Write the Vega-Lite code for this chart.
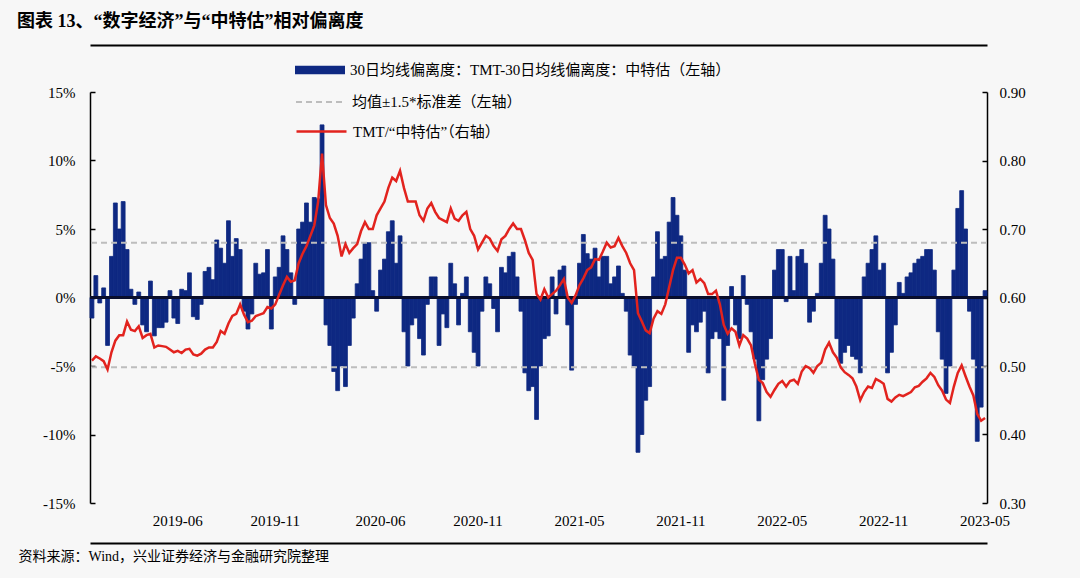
{
  "$schema": "https://vega.github.io/schema/vega-lite/v6.json",
  "autosize": "none",
  "width": 897,
  "height": 411,
  "padding": {"left": 90, "top": 92, "right": 93, "bottom": 75},
  "background": "#f7f7f7",
  "config": {"view": {"stroke": null}, "font": "Liberation Serif, Noto Sans CJK SC"},
  "title": {
    "text": "图表 13、“数字经济”与“中特估”相对偏离度",
    "anchor": "start",
    "frame": "group",
    "dx": -73,
    "offset": 14,
    "fontSize": 18,
    "fontWeight": "bold",
    "font": "Liberation Serif, Noto Sans CJK SC",
    "color": "#000000"
  },
  "data": {"values": [
    {"d":"2019-01-04","v":-1.5,"r":0.508},{"d":"2019-01-11","v":1.6,"r":0.514},{"d":"2019-01-18","v":-0.4,"r":0.511},{"d":"2019-01-25","v":0.7,"r":0.507},
    {"d":"2019-02-01","v":-3.5,"r":0.495},{"d":"2019-02-08","v":3.0,"r":0.520},{"d":"2019-02-15","v":6.9,"r":0.537},{"d":"2019-02-22","v":5.0,"r":0.545},
    {"d":"2019-03-01","v":7.0,"r":0.545},{"d":"2019-03-08","v":3.5,"r":0.565},{"d":"2019-03-15","v":0.6,"r":0.553},{"d":"2019-03-22","v":-0.5,"r":0.551},{"d":"2019-03-29","v":0.4,"r":0.558},
    {"d":"2019-04-05","v":-2.0,"r":0.541},{"d":"2019-04-12","v":-2.5,"r":0.545},{"d":"2019-04-19","v":1.2,"r":0.547},{"d":"2019-04-26","v":-2.8,"r":0.527},
    {"d":"2019-05-03","v":-2.2,"r":0.530},{"d":"2019-05-10","v":-2.2,"r":0.529},{"d":"2019-05-17","v":-1.8,"r":0.528},{"d":"2019-05-24","v":0.5,"r":0.524},{"d":"2019-05-31","v":-1.5,"r":0.520},
    {"d":"2019-06-07","v":-1.9,"r":0.522},{"d":"2019-06-14","v":0.6,"r":0.519},{"d":"2019-06-21","v":0.5,"r":0.524},{"d":"2019-06-28","v":1.8,"r":0.525},
    {"d":"2019-07-05","v":-1.4,"r":0.517},{"d":"2019-07-12","v":-1.6,"r":0.515},{"d":"2019-07-19","v":-0.5,"r":0.518},{"d":"2019-07-26","v":1.9,"r":0.524},
    {"d":"2019-08-02","v":2.2,"r":0.527},{"d":"2019-08-09","v":1.3,"r":0.527},{"d":"2019-08-16","v":4.2,"r":0.535},{"d":"2019-08-23","v":3.6,"r":0.551},{"d":"2019-08-30","v":2.5,"r":0.547},
    {"d":"2019-09-06","v":5.6,"r":0.562},{"d":"2019-09-13","v":3.0,"r":0.573},{"d":"2019-09-20","v":4.3,"r":0.576},{"d":"2019-09-27","v":3.5,"r":0.590},
    {"d":"2019-10-04","v":-1.0,"r":0.575},{"d":"2019-10-11","v":-2.3,"r":0.564},{"d":"2019-10-18","v":-1.2,"r":0.566},{"d":"2019-10-25","v":2.5,"r":0.573},
    {"d":"2019-11-01","v":1.7,"r":0.575},{"d":"2019-11-08","v":1.8,"r":0.577},{"d":"2019-11-15","v":3.5,"r":0.586},{"d":"2019-11-22","v":-2.3,"r":0.584},{"d":"2019-11-29","v":1.5,"r":0.590},
    {"d":"2019-12-06","v":2.2,"r":0.604},{"d":"2019-12-13","v":4.5,"r":0.618},{"d":"2019-12-20","v":3.5,"r":0.630},{"d":"2019-12-27","v":1.8,"r":0.623},
    {"d":"2020-01-03","v":-0.5,"r":0.625},{"d":"2020-01-10","v":5.0,"r":0.650},{"d":"2020-01-17","v":5.5,"r":0.664},{"d":"2020-01-24","v":6.9,"r":0.675},{"d":"2020-01-31","v":5.5,"r":0.690},
    {"d":"2020-02-07","v":7.3,"r":0.705},{"d":"2020-02-14","v":7.2,"r":0.740},{"d":"2020-02-21","v":12.6,"r":0.810},{"d":"2020-02-28","v":-2.0,"r":0.735},
    {"d":"2020-03-06","v":-3.5,"r":0.716},{"d":"2020-03-13","v":-5.4,"r":0.708},{"d":"2020-03-20","v":-6.8,"r":0.690},{"d":"2020-03-27","v":-5.0,"r":0.660},
    {"d":"2020-04-03","v":-6.5,"r":0.678},{"d":"2020-04-10","v":-3.5,"r":0.665},{"d":"2020-04-17","v":-1.5,"r":0.672},{"d":"2020-04-24","v":1.0,"r":0.678},
    {"d":"2020-05-01","v":2.8,"r":0.697},{"d":"2020-05-08","v":4.0,"r":0.710},{"d":"2020-05-15","v":4.0,"r":0.700},{"d":"2020-05-22","v":0.5,"r":0.700},{"d":"2020-05-29","v":-1.0,"r":0.720},
    {"d":"2020-06-05","v":2.0,"r":0.730},{"d":"2020-06-12","v":2.8,"r":0.740},{"d":"2020-06-19","v":4.8,"r":0.760},{"d":"2020-06-26","v":5.6,"r":0.775},
    {"d":"2020-07-03","v":2.5,"r":0.770},{"d":"2020-07-10","v":4.5,"r":0.785},{"d":"2020-07-17","v":-2.5,"r":0.760},{"d":"2020-07-24","v":-5.0,"r":0.740},{"d":"2020-07-31","v":-2.0,"r":0.740},
    {"d":"2020-08-07","v":-1.5,"r":0.740},{"d":"2020-08-14","v":-3.0,"r":0.720},{"d":"2020-08-21","v":-4.2,"r":0.712},{"d":"2020-08-28","v":-0.5,"r":0.730},
    {"d":"2020-09-04","v":1.5,"r":0.738},{"d":"2020-09-11","v":1.5,"r":0.725},{"d":"2020-09-18","v":-3.5,"r":0.716},{"d":"2020-09-25","v":-1.2,"r":0.713},
    {"d":"2020-10-02","v":-2.2,"r":0.710},{"d":"2020-10-09","v":2.5,"r":0.730},{"d":"2020-10-16","v":1.0,"r":0.715},{"d":"2020-10-23","v":-2.0,"r":0.712},{"d":"2020-10-30","v":0.3,"r":0.720},
    {"d":"2020-11-06","v":1.5,"r":0.725},{"d":"2020-11-13","v":-2.5,"r":0.700},{"d":"2020-11-20","v":-4.0,"r":0.690},{"d":"2020-11-27","v":-5.0,"r":0.670},
    {"d":"2020-12-04","v":-1.0,"r":0.680},{"d":"2020-12-11","v":1.5,"r":0.690},{"d":"2020-12-18","v":1.0,"r":0.686},{"d":"2020-12-25","v":-0.8,"r":0.675},
    {"d":"2021-01-01","v":-2.5,"r":0.668},{"d":"2021-01-08","v":2.2,"r":0.685},{"d":"2021-01-15","v":1.8,"r":0.690},{"d":"2021-01-22","v":3.0,"r":0.700},{"d":"2021-01-29","v":3.3,"r":0.708},
    {"d":"2021-02-05","v":1.5,"r":0.700},{"d":"2021-02-12","v":-1.0,"r":0.700},{"d":"2021-02-19","v":-5.5,"r":0.684},{"d":"2021-02-26","v":-6.8,"r":0.665},
    {"d":"2021-03-05","v":-6.5,"r":0.655},{"d":"2021-03-12","v":-8.9,"r":0.605},{"d":"2021-03-19","v":-5.0,"r":0.597},{"d":"2021-03-26","v":-3.0,"r":0.612},
    {"d":"2021-04-02","v":-2.8,"r":0.600},{"d":"2021-04-09","v":1.5,"r":0.605},{"d":"2021-04-16","v":-1.2,"r":0.610},{"d":"2021-04-23","v":2.0,"r":0.618},{"d":"2021-04-30","v":2.3,"r":0.627},
    {"d":"2021-05-07","v":-2.0,"r":0.600},{"d":"2021-05-14","v":-5.3,"r":0.592},{"d":"2021-05-21","v":-0.5,"r":0.603},{"d":"2021-05-28","v":2.5,"r":0.618},
    {"d":"2021-06-04","v":4.6,"r":0.628},{"d":"2021-06-11","v":3.2,"r":0.640},{"d":"2021-06-18","v":2.8,"r":0.644},{"d":"2021-06-25","v":3.6,"r":0.656},
    {"d":"2021-07-02","v":1.5,"r":0.655},{"d":"2021-07-09","v":3.0,"r":0.667},{"d":"2021-07-16","v":3.0,"r":0.680},{"d":"2021-07-23","v":1.0,"r":0.673},{"d":"2021-07-30","v":1.5,"r":0.675},
    {"d":"2021-08-06","v":2.3,"r":0.687},{"d":"2021-08-13","v":0.3,"r":0.675},{"d":"2021-08-20","v":-1.0,"r":0.665},{"d":"2021-08-27","v":-4.2,"r":0.650},
    {"d":"2021-09-03","v":-5.0,"r":0.640},{"d":"2021-09-10","v":-11.3,"r":0.577},{"d":"2021-09-17","v":-10.0,"r":0.565},{"d":"2021-09-24","v":-7.5,"r":0.552},
    {"d":"2021-10-01","v":-6.5,"r":0.548},{"d":"2021-10-08","v":1.5,"r":0.569},{"d":"2021-10-15","v":4.8,"r":0.580},{"d":"2021-10-22","v":2.8,"r":0.576},{"d":"2021-10-29","v":3.0,"r":0.590},
    {"d":"2021-11-05","v":5.5,"r":0.615},{"d":"2021-11-12","v":7.3,"r":0.640},{"d":"2021-11-19","v":6.0,"r":0.658},{"d":"2021-11-26","v":4.5,"r":0.658},
    {"d":"2021-12-03","v":2.0,"r":0.648},{"d":"2021-12-10","v":-4.0,"r":0.635},{"d":"2021-12-17","v":-2.0,"r":0.640},{"d":"2021-12-24","v":-2.5,"r":0.622},{"d":"2021-12-31","v":-1.8,"r":0.627},
    {"d":"2022-01-07","v":-1.0,"r":0.621},{"d":"2022-01-14","v":-5.5,"r":0.605},{"d":"2022-01-21","v":-3.0,"r":0.605},{"d":"2022-01-28","v":-2.5,"r":0.610},
    {"d":"2022-02-04","v":-3.0,"r":0.590},{"d":"2022-02-11","v":-7.5,"r":0.560},{"d":"2022-02-18","v":-3.5,"r":0.547},{"d":"2022-02-25","v":0.8,"r":0.555},
    {"d":"2022-03-04","v":-2.0,"r":0.550},{"d":"2022-03-11","v":-3.0,"r":0.530},{"d":"2022-03-18","v":1.6,"r":0.545},{"d":"2022-03-25","v":-0.5,"r":0.540},
    {"d":"2022-04-01","v":-2.5,"r":0.530},{"d":"2022-04-08","v":-4.5,"r":0.503},{"d":"2022-04-15","v":-9.0,"r":0.480},{"d":"2022-04-22","v":-6.0,"r":0.475},{"d":"2022-04-29","v":-4.5,"r":0.462},
    {"d":"2022-05-06","v":-3.0,"r":0.455},{"d":"2022-05-13","v":2.0,"r":0.465},{"d":"2022-05-20","v":3.5,"r":0.474},{"d":"2022-05-27","v":3.5,"r":0.478},
    {"d":"2022-06-03","v":-0.3,"r":0.470},{"d":"2022-06-10","v":3.0,"r":0.478},{"d":"2022-06-17","v":0.5,"r":0.480},{"d":"2022-06-24","v":3.0,"r":0.474},
    {"d":"2022-07-01","v":3.5,"r":0.492},{"d":"2022-07-08","v":2.5,"r":0.500},{"d":"2022-07-15","v":-1.8,"r":0.497},{"d":"2022-07-22","v":-1.0,"r":0.490},{"d":"2022-07-29","v":0.3,"r":0.500},
    {"d":"2022-08-05","v":2.5,"r":0.505},{"d":"2022-08-12","v":6.0,"r":0.524},{"d":"2022-08-19","v":5.0,"r":0.534},{"d":"2022-08-26","v":2.8,"r":0.520},
    {"d":"2022-09-02","v":-3.0,"r":0.512},{"d":"2022-09-09","v":-4.8,"r":0.498},{"d":"2022-09-16","v":-4.0,"r":0.491},{"d":"2022-09-23","v":-3.5,"r":0.487},{"d":"2022-09-30","v":-4.3,"r":0.482},
    {"d":"2022-10-07","v":-4.5,"r":0.470},{"d":"2022-10-14","v":-5.5,"r":0.450},{"d":"2022-10-21","v":1.5,"r":0.462},{"d":"2022-10-28","v":2.5,"r":0.470},
    {"d":"2022-11-04","v":3.5,"r":0.468},{"d":"2022-11-11","v":4.5,"r":0.481},{"d":"2022-11-18","v":2.0,"r":0.478},{"d":"2022-11-25","v":2.5,"r":0.474},
    {"d":"2022-12-02","v":-5.5,"r":0.452},{"d":"2022-12-09","v":-4.0,"r":0.448},{"d":"2022-12-16","v":-2.0,"r":0.454},{"d":"2022-12-23","v":1.1,"r":0.458},{"d":"2022-12-30","v":0.3,"r":0.456},
    {"d":"2023-01-06","v":1.5,"r":0.459},{"d":"2023-01-13","v":1.8,"r":0.462},{"d":"2023-01-20","v":2.5,"r":0.469},{"d":"2023-01-27","v":2.8,"r":0.471},
    {"d":"2023-02-03","v":3.0,"r":0.477},{"d":"2023-02-10","v":3.5,"r":0.482},{"d":"2023-02-17","v":3.5,"r":0.490},{"d":"2023-02-24","v":2.0,"r":0.484},
    {"d":"2023-03-03","v":-2.5,"r":0.472},{"d":"2023-03-10","v":-4.5,"r":0.464},{"d":"2023-03-17","v":-7.0,"r":0.451},{"d":"2023-03-24","v":-5.0,"r":0.446},{"d":"2023-03-31","v":2.0,"r":0.470},
    {"d":"2023-04-07","v":6.5,"r":0.490},{"d":"2023-04-14","v":7.8,"r":0.501},{"d":"2023-04-21","v":5.0,"r":0.485},{"d":"2023-04-28","v":-1.0,"r":0.470},
    {"d":"2023-05-05","v":-4.5,"r":0.457},{"d":"2023-05-12","v":-10.5,"r":0.430},{"d":"2023-05-19","v":-8.0,"r":0.420},{"d":"2023-05-26","v":0.5,"r":0.424}
  ]},
  "layer": [
    {
      "layer": [
        {
          "mark": {"type": "bar", "stroke": "#0e2882", "strokeWidth": 0.8},
          "encoding": {
            "x": {
              "field": "d", "type": "ordinal",
              "scale": {"paddingInner": 0, "paddingOuter": 0},
              "axis": {
                "orient": "bottom", "offset": 40,
                "values": ["2019-06-07","2019-11-29","2020-06-05","2020-11-27","2021-05-28","2021-11-26","2022-05-27","2022-11-25","2023-05-26"],
                "labelExpr": "slice(datum.value, 0, 7)",
                "labelAngle": 0, "labelOverlap": false, "labelFlush": false,
                "labelPadding": -30, "labelFontSize": 15, "labelColor": "#000000",
                "labelFont": "Liberation Serif",
                "ticks": false, "domain": true, "domainColor": "#000000", "domainWidth": 2,
                "title": "资料来源：Wind，兴业证券经济与金融研究院整理",
                "titleAnchor": "start", "titleAlign": "left", "titleBaseline": "top",
                "titleX": -72, "titleY": 6,
                "titleFontSize": 14, "titleFontWeight": "normal", "titleColor": "#000000",
                "titleFont": "Liberation Serif, Noto Sans CJK SC"
              }
            },
            "y": {
              "field": "v", "type": "quantitative",
              "scale": {"domain": [-15, 15], "nice": false},
              "axis": {
                "orient": "left", "title": null, "grid": false,
                "values": [-15, -10, -5, 0, 5, 10, 15],
                "labelExpr": "datum.value + '%'",
                "domainColor": "#000000", "domainWidth": 1.5,
                "tickColor": "#000000", "tickWidth": 1.5, "tickSize": -5,
                "labelPadding": 20, "labelFontSize": 15, "labelColor": "#000000",
                "labelFont": "Liberation Serif"
              }
            },
            "color": {
              "datum": "30日均线偏离度：TMT-30日均线偏离度：中特估（左轴）",
              "scale": {"range": ["#0e2882"]},
              "legend": {
                "orient": "none", "legendX": 205, "legendY": -47, "title": null, "padding": 0,
                "symbolType": "M-1,-0.17H1V0.17H-1Z", "symbolSize": 2500, "symbolStrokeWidth": 0,
                "labelFontSize": 15, "labelColor": "#000000", "labelLimit": 700, "labelOffset": 5,
                "labelFont": "Liberation Serif, Noto Sans CJK SC"
              }
            }
          }
        },
        {
          "data": {"values": [{"b": 4.0}, {"b": -5.1}]},
          "mark": {"type": "rule", "strokeDash": [6, 4], "strokeWidth": 2},
          "encoding": {
            "y": {"field": "b", "type": "quantitative", "title": null},
            "color": {
              "datum": "均值±1.5*标准差（左轴）",
              "scale": {"range": ["#bdbdbd"]},
              "legend": {
                "orient": "none", "legendX": 205, "legendY": -16, "title": null, "padding": 0,
                "symbolType": "stroke", "symbolSize": 2500, "symbolStrokeWidth": 2, "symbolDash": [6, 4],
                "labelFontSize": 15, "labelColor": "#000000", "labelLimit": 700, "labelOffset": 5,
                "labelFont": "Liberation Serif, Noto Sans CJK SC"
              }
            }
          }
        },
        {
          "mark": {"type": "rule", "color": "#0a0f2e", "strokeWidth": 2.5},
          "encoding": {"y": {"datum": 0, "title": null}}
        }
      ],
      "resolve": {"scale": {"color": "independent"}}
    },
    {
      "mark": {"type": "line", "strokeWidth": 2.5},
      "encoding": {
        "x": {
          "field": "d", "type": "ordinal",
          "axis": {"orient": "top", "offset": 47, "labels": false, "ticks": false, "title": null,
                   "domain": true, "domainColor": "#000000", "domainWidth": 2}
        },
        "y": {
          "field": "r", "type": "quantitative",
          "scale": {"domain": [0.3, 0.9], "nice": false, "zero": false},
          "axis": {
            "orient": "right", "title": null, "grid": false,
            "values": [0.3, 0.4, 0.5, 0.6, 0.7, 0.8, 0.9], "format": ".2f",
            "domainColor": "#000000", "domainWidth": 1.5,
            "tickColor": "#000000", "tickWidth": 1.5, "tickSize": -5,
            "labelPadding": 17, "labelFontSize": 15, "labelColor": "#000000",
            "labelFont": "Liberation Serif"
          }
        },
        "color": {
          "datum": "TMT/“中特估”（右轴）",
          "scale": {"range": ["#e2231e"]},
          "legend": {
            "orient": "none", "legendX": 205, "legendY": 13, "title": null, "padding": 0,
            "symbolType": "stroke", "symbolSize": 2500, "symbolStrokeWidth": 2.5,
            "labelFontSize": 15, "labelColor": "#000000", "labelLimit": 700, "labelOffset": 5,
            "labelFont": "Liberation Serif, Noto Sans CJK SC"
          }
        }
      }
    }
  ],
  "resolve": {"scale": {"y": "independent", "color": "independent"}, "axis": {"x": "independent"}}
}
